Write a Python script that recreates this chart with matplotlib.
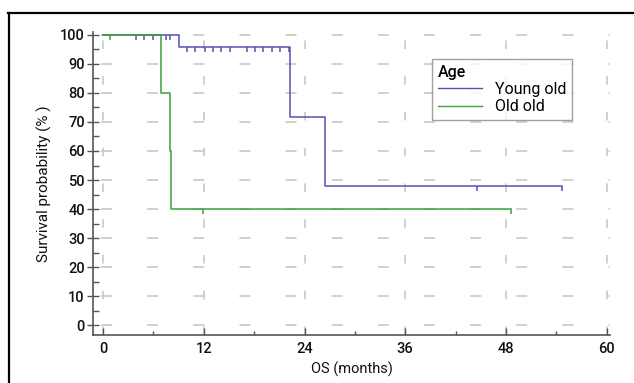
import matplotlib
matplotlib.use("Agg")
import matplotlib.pyplot as plt
from matplotlib.lines import Line2D

plt.rcParams['font.family'] = ['Roboto', 'DejaVu Sans']

# Kaplan-Meier steps
young_t = [0, 9.0, 22.3, 26.4, 54.7]
young_s = [100, 95.7, 71.8, 47.9, 47.9]
young_cens_t = [3.9, 4.9, 5.9, 7.5, 8.0,
                10.0, 11.0, 12.1, 13.1, 14.1, 15.1, 17.1, 18.1, 19.1, 20.1, 21.1, 22.2,
                44.6, 54.7]
young_cens_s = [100] * 5 + [95.7] * 12 + [47.9] * 2

old_t = [0, 6.9, 8.0, 8.15, 48.6]
old_s = [100, 80, 60, 40, 40]
old_cens_t = [0.8, 11.9, 48.6]
old_cens_s = [100, 40, 40]

xticks = [0, 12, 24, 36, 48, 60]
yticks = list(range(0, 101, 10))

blue = '#5353b3'
green = '#3f9f3f'
grid_c = '#c4c4c4'

fig = plt.figure(figsize=(6.34, 3.83), dpi=100)
ax = fig.add_axes([93/634, 1 - 335/383, (610-93)/634, (335-32)/383])

# dashed grid
for yv in yticks:
    ax.plot([-0.2, 60.4], [yv, yv], color=grid_c, lw=1.1, dashes=(7.2, 23), zorder=1)
for xv in xticks:
    ax.plot([xv, xv], [-3.4, 101], color=grid_c, lw=1.1, dashes=(5.6, 17.8), zorder=1)

cens = [(0, 0), (0, -1)]
ax.step(young_t, young_s, where='post', color=blue, lw=1.1, zorder=3)
ax.plot(young_cens_t, young_cens_s, ls='none', marker=cens, ms=7, mew=1.1,
        color=blue, zorder=3)
ax.step(old_t, old_s, where='post', color=green, lw=1.1, zorder=4)
ax.plot(old_cens_t, old_cens_s, ls='none', marker=cens, ms=7, mew=1.1,
        color=green, zorder=4)

ax.set_xlim(-1.2, 60.4)
ax.set_ylim(-3.4, 101)
ax.set_xticks(xticks)
ax.set_xticks(range(6, 60, 12), minor=True)
ax.set_yticks(yticks)
ax.set_yticks(range(5, 100, 10), minor=True)
for s in ['top', 'right']:
    ax.spines[s].set_visible(False)
for s in ['left', 'bottom']:
    ax.spines[s].set_color('#555555')
    ax.spines[s].set_linewidth(1.2)
ax.tick_params(axis='y', which='major', direction='inout', length=8, width=1,
               color='#555555', labelsize=10.5, pad=2)
ax.tick_params(axis='y', which='minor', direction='in', length=4, width=1, color='#555555')
ax.tick_params(axis='x', which='major', direction='in', length=5, width=1,
               color='#555555', labelsize=10.5, pad=5)
ax.tick_params(axis='x', which='minor', direction='in', length=3, width=1, color='#555555')
for lab in ax.get_xticklabels() + ax.get_yticklabels():
    lab.set_fontweight('medium')
    lab.set_color('#111111')

ax.set_xlabel('OS (months)', fontsize=10.5, labelpad=4, color='#111111')
ax.set_ylabel('Survival probability (% )', fontsize=11, labelpad=6, color='#111111')

ax.plot([], [], color=blue, lw=1, label='Young old')
ax.plot([], [], color=green, lw=1, label='Old old')
leg = ax.legend(title='Age', loc='upper left', bbox_to_anchor=((432-93)/517, (335-59)/303),
                fontsize=11.5, title_fontsize=11.5, frameon=True, fancybox=False,
                handlelength=2.8, handletextpad=0.8, borderpad=0.35, labelspacing=0.15,
                borderaxespad=0)
leg._legend_box.align = 'left'
leg.get_title().set_fontweight('medium')
leg.get_frame().set_edgecolor('#888888')
leg.get_frame().set_linewidth(1)

# outer black frame (left and top edges visible)
fig.add_artist(Line2D([9/634, 9/634], [0, 1 - 13/383], transform=fig.transFigure,
                      color='black', lw=1.6))
fig.add_artist(Line2D([9/634 - 0.001, 1], [1 - 13/383, 1 - 13/383], transform=fig.transFigure,
                      color='black', lw=1.6))

fig.savefig('out.png', dpi=100)
